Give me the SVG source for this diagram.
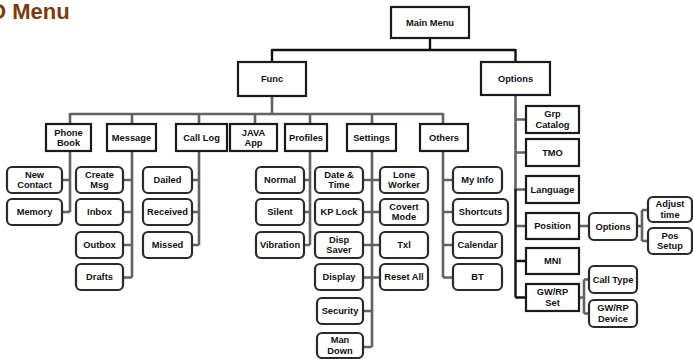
<svg xmlns="http://www.w3.org/2000/svg" width="693" height="359" viewBox="0 0 693 359">
<style>
.b{fill:#fff;stroke:#1a1a1a;stroke-width:2.2}
.r{fill:#fff;stroke:#2a2a2a;stroke-width:2.2}
.t{font-family:"Liberation Sans",Arial,sans-serif;font-weight:bold;font-size:9.3px;fill:#111;text-anchor:middle}
.g{fill:none;stroke:#5e6363;stroke-width:2.6}
.k{fill:none;stroke:#111;stroke-width:2.4}
.title{font-family:"Liberation Sans",Arial,sans-serif;font-weight:bold;font-size:22px;fill:#7d3b0c}
</style>
<rect width="693" height="359" fill="#fff"/>
<text class="title" x="-11" y="19">O Menu</text>
<g id="connectors">
<path class="k" d="M430,38V50M272,50H515.5M272,49V62M515.5,49V63"/>
<path class="g" d="M272,96V114M70,114H443M70,113V124M132,113V124M199,113V124M255,113V124M310,113V124M372,113V124M443,113V124"/>
<path class="g" d="M70,151V212M62,180H70M62,212H70"/>
<path class="g" d="M132,151V277.5M123,180H132M123,212H132M123,245H132M123,277.5H132"/>
<path class="g" d="M199,151V245M192,180H199M192,212H199M192,245H199"/>
<path class="g" d="M310,151V245M304,180H310M304,212H310M304,245H310"/>
<path class="g" d="M372,151V347M363,180H380M363,212H380M363,245H380M363,277.5H380M363,311H372M363,347H372"/>
<path class="g" d="M443,151V277.5M443,180H453M443,212H453M443,245H453M443,277.5H453"/>
<path class="g" d="M515.5,95V190M515.5,119.5H526M515.5,152.5H526M515.5,189.5H526M515.5,226H526"/>
<path class="k" d="M515.5,189V297.5M515.5,261H526M515.5,297.5H526"/>
<path class="g" d="M579,226H589M637,226H642M642,210V241M642,210H648M642,241H648"/>
<path class="g" d="M579,297.5H584M584,279.5V313.5M584,279.5H589M584,313.5H589"/>
</g>
<g id="main"><rect class="b" x="391" y="7" width="78" height="31"/><text class="t" x="430" y="25.8">Main Menu</text></g>
<g id="func"><rect class="b" x="238" y="62" width="68" height="34"/><text class="t" x="272" y="82.3">Func</text></g>
<g id="options"><rect class="b" x="481" y="62" width="69" height="33"/><text class="t" x="515.5" y="81.8">Options</text></g>

<g id="phonebook"><rect class="b" x="46" y="124" width="45" height="27"/><text class="t" x="68.5" y="135.5">Phone</text><text class="t" x="68.5" y="146">Book</text></g>
<g id="message"><rect class="b" x="107" y="124" width="49" height="27"/><text class="t" x="131.5" y="140.8">Message</text></g>
<g id="calllog"><rect class="b" x="176" y="124" width="51" height="27"/><text class="t" x="201.5" y="140.8">Call Log</text></g>
<g id="java"><rect class="b" x="230" y="124" width="47" height="27"/><text class="t" x="253.5" y="135.5">JAVA</text><text class="t" x="253.5" y="146">App</text></g>
<g id="profiles"><rect class="b" x="285" y="124" width="42" height="27"/><text class="t" x="306" y="140.8">Profiles</text></g>
<g id="settings"><rect class="b" x="347" y="124" width="49" height="27"/><text class="t" x="371.5" y="140.8">Settings</text></g>
<g id="others"><rect class="b" x="420" y="124" width="48" height="27"/><text class="t" x="444" y="140.8">Others</text></g>

<g id="newcontact"><rect class="r" x="7" y="167" width="55" height="26" rx="5"/><text class="t" x="34.5" y="177.5">New</text><text class="t" x="34.5" y="188">Contact</text></g>
<g id="memory"><rect class="r" x="7" y="199" width="55" height="26" rx="5"/><text class="t" x="34.5" y="215.3">Memory</text></g>

<g id="createmsg"><rect class="r" x="76" y="167" width="47" height="26" rx="5"/><text class="t" x="99.5" y="177.5">Create</text><text class="t" x="99.5" y="188">Msg</text></g>
<g id="inbox"><rect class="r" x="76" y="199" width="47" height="26" rx="5"/><text class="t" x="99.5" y="215.3">Inbox</text></g>
<g id="outbox"><rect class="r" x="76" y="232" width="47" height="26" rx="5"/><text class="t" x="99.5" y="248.3">Outbox</text></g>
<g id="drafts"><rect class="r" x="76" y="264" width="47" height="26" rx="5"/><text class="t" x="99.5" y="280.3">Drafts</text></g>

<g id="dailed"><rect class="r" x="143" y="167" width="49" height="26" rx="5"/><text class="t" x="167.5" y="183.3">Dailed</text></g>
<g id="received"><rect class="r" x="143" y="199" width="49" height="26" rx="5"/><text class="t" x="167.5" y="215.3">Received</text></g>
<g id="missed"><rect class="r" x="143" y="232" width="49" height="26" rx="5"/><text class="t" x="167.5" y="248.3">Missed</text></g>

<g id="normal"><rect class="r" x="256" y="167" width="48" height="26" rx="5"/><text class="t" x="280" y="183.3">Normal</text></g>
<g id="silent"><rect class="r" x="256" y="199" width="48" height="26" rx="5"/><text class="t" x="280" y="215.3">Silent</text></g>
<g id="vibration"><rect class="r" x="256" y="232" width="48" height="26" rx="5"/><text class="t" x="280" y="248.3">Vibration</text></g>

<g id="datetime"><rect class="r" x="315" y="167" width="48" height="26" rx="5"/><text class="t" x="339" y="177.5">Date &amp;</text><text class="t" x="339" y="188">Time</text></g>
<g id="kplock"><rect class="r" x="315" y="199" width="48" height="26" rx="5"/><text class="t" x="339" y="215.3">KP Lock</text></g>
<g id="dispsaver"><rect class="r" x="315" y="232" width="48" height="26" rx="5"/><text class="t" x="339" y="242.5">Disp</text><text class="t" x="339" y="253">Saver</text></g>
<g id="display"><rect class="r" x="315" y="264" width="48" height="26" rx="5"/><text class="t" x="339" y="280.3">Display</text></g>
<g id="security"><rect class="r" x="317" y="298" width="46" height="26" rx="5"/><text class="t" x="340" y="314.3">Security</text></g>
<g id="mandown"><rect class="r" x="317" y="333" width="46" height="25" rx="5"/><text class="t" x="340" y="343">Man</text><text class="t" x="340" y="353.5">Down</text></g>

<g id="loneworker"><rect class="r" x="380" y="167" width="48" height="26" rx="5"/><text class="t" x="404" y="177.5">Lone</text><text class="t" x="404" y="188">Worker</text></g>
<g id="covertmode"><rect class="r" x="380" y="199" width="48" height="26" rx="5"/><text class="t" x="404" y="209.5">Covert</text><text class="t" x="404" y="220">Mode</text></g>
<g id="txl"><rect class="r" x="380" y="232" width="48" height="26" rx="5"/><text class="t" x="404" y="248.3">Txl</text></g>
<g id="resetall"><rect class="r" x="380" y="264" width="48" height="26" rx="5"/><text class="t" x="404" y="280.3">Reset All</text></g>

<g id="myinfo"><rect class="r" x="453" y="167" width="49" height="26" rx="5"/><text class="t" x="477.5" y="183.3">My Info</text></g>
<g id="shortcuts"><rect class="r" x="453" y="199" width="55" height="26" rx="5"/><text class="t" x="480.5" y="215.3">Shortcuts</text></g>
<g id="calendar"><rect class="r" x="453" y="232" width="49" height="26" rx="5"/><text class="t" x="477.5" y="248.3">Calendar</text></g>
<g id="bt"><rect class="r" x="453" y="264" width="49" height="26" rx="5"/><text class="t" x="477.5" y="280.3">BT</text></g>

<g id="grpcatalog"><rect class="b" x="526" y="106" width="53" height="27"/><text class="t" x="552.5" y="117">Grp</text><text class="t" x="552.5" y="127.5">Catalog</text></g>
<g id="tmo"><rect class="b" x="526" y="139" width="53" height="27"/><text class="t" x="552.5" y="155.8">TMO</text></g>
<g id="language"><rect class="b" x="526" y="176" width="53" height="27"/><text class="t" x="552.5" y="192.8">Language</text></g>
<g id="position"><rect class="b" x="526" y="213" width="53" height="26"/><text class="t" x="552.5" y="229.3">Position</text></g>
<g id="mni"><rect class="b" x="526" y="248" width="53" height="26"/><text class="t" x="552.5" y="264.3">MNI</text></g>
<g id="gwrpset"><rect class="b" x="526" y="284" width="53" height="27"/><text class="t" x="552.5" y="295">GW/RP</text><text class="t" x="552.5" y="305.5">Set</text></g>

<g id="posoptions"><rect class="r" x="589" y="213" width="48" height="27" rx="5"/><text class="t" x="613" y="229.8">Options</text></g>
<g id="adjusttime"><rect class="r" x="648" y="197" width="44" height="25" rx="5"/><text class="t" x="670" y="207">Adjust</text><text class="t" x="670" y="217.5">time</text></g>
<g id="possetup"><rect class="r" x="648" y="228" width="44" height="26" rx="5"/><text class="t" x="670" y="238.5">Pos</text><text class="t" x="670" y="249">Setup</text></g>
<g id="calltype"><rect class="r" x="589" y="266" width="48" height="27" rx="5"/><text class="t" x="613" y="282.8">Call Type</text></g>
<g id="gwrpdevice"><rect class="r" x="589" y="300" width="48" height="27" rx="5"/><text class="t" x="613" y="311">GW/RP</text><text class="t" x="613" y="321.5">Device</text></g>
</svg>
